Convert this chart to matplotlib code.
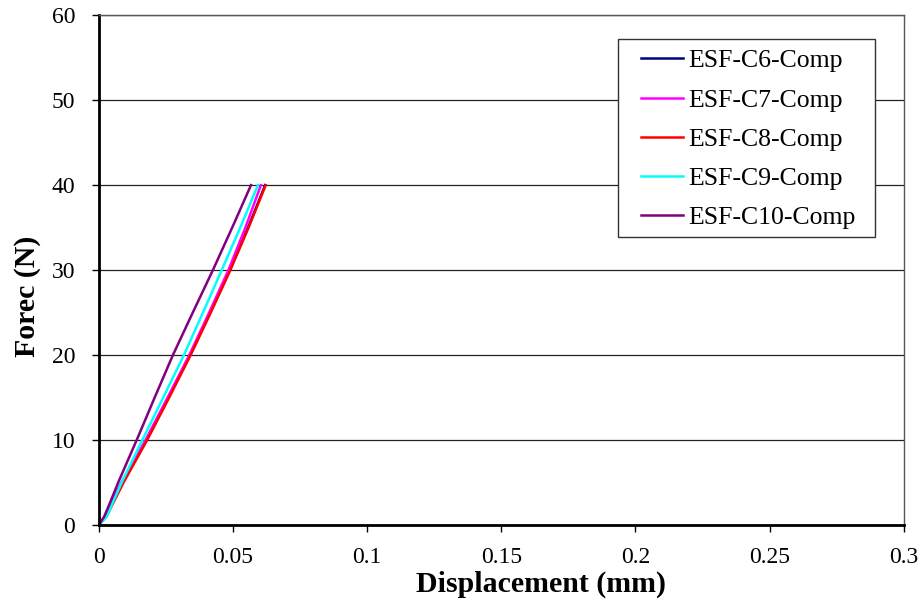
import matplotlib
matplotlib.use("Agg")
import matplotlib.pyplot as plt
from matplotlib.patches import Rectangle

plt.rcParams['font.family'] = ['Liberation Serif', 'DejaVu Serif']

force = [0, 1, 2.5, 5, 10, 15, 20, 25, 30, 35, 40]
disp_c6 = [0, 0.0025, 0.0048, 0.0088, 0.0177, 0.0259, 0.0340, 0.0415, 0.0488, 0.0556, 0.0620]
disp_c7 = [0, 0.0022, 0.0044, 0.0084, 0.0174, 0.0256, 0.0337, 0.0411, 0.0483, 0.0546, 0.0604]
disp_c8 = [0, 0.0028, 0.0052, 0.0092, 0.0180, 0.0262, 0.0342, 0.0417, 0.0490, 0.0558, 0.0622]
disp_c9 = [0, 0.0030, 0.0050, 0.0085, 0.0162, 0.0240, 0.0317, 0.0388, 0.0458, 0.0527, 0.0593]
disp_c10 = [0, 0.0020, 0.0040, 0.0072, 0.0141, 0.0208, 0.0276, 0.0350, 0.0425, 0.0497, 0.0567]

labels = ['ESF-C6-Comp', 'ESF-C7-Comp', 'ESF-C8-Comp', 'ESF-C9-Comp', 'ESF-C10-Comp']
colors = ['#000080', '#FF00FF', '#FF0000', '#00FFFF', '#800080']
series = [disp_c6, disp_c7, disp_c8, disp_c9, disp_c10]

fig = plt.figure(figsize=(9.24, 6.08), dpi=100)
ax = fig.add_axes([0.107, 0.1365, 0.871, 0.8385])

for d, c, l in zip(series, colors, labels):
    ax.plot(d, force, color=c, lw=1.8, label=l)

ax.set_xlim(0, 0.3)
ax.set_ylim(0, 60)
ax.set_xticks([0, 0.05, 0.1, 0.15, 0.2, 0.25, 0.3])
ax.set_xticklabels(['0', '0.05', '0.1', '0.15', '0.2', '0.25', '0.3'])
ax.set_yticks([0, 10, 20, 30, 40, 50, 60])
ax.yaxis.grid(True, color='#222222', lw=0.9)
ax.set_axisbelow(True)
ax.tick_params(axis='both', labelsize=17, direction='out', length=5, width=1)
ax.tick_params(axis='x', pad=11)
ax.tick_params(axis='y', pad=12)
for s in ['left', 'bottom']:
    ax.spines[s].set_linewidth(2)
    ax.spines[s].set_color('black')
for s in ['top', 'right']:
    ax.spines[s].set_linewidth(1)
    ax.spines[s].set_color('#555555')
ax.set_xlabel('Displacement (mm)', fontsize=21.5, fontweight='bold')
ax.xaxis.set_label_coords(0.549, -0.090)
ax.set_ylabel('Forec (N)', fontsize=21.5, fontweight='bold')
ax.yaxis.set_label_coords(-0.072, 0.449)

leg = ax.legend(loc='upper left', bbox_to_anchor=(0.6733, 0.933), fontsize=18.5,
                frameon=False, handlelength=1.65, handletextpad=0.2, borderpad=0,
                labelspacing=0.63, borderaxespad=0)
ax.add_patch(Rectangle((0.6447, 0.5647), 0.964 - 0.6447, 0.953 - 0.5647,
                       transform=ax.transAxes, fill=True, facecolor='white',
                       edgecolor='#333333', lw=1, zorder=4))
leg.set_zorder(5)

fig.savefig('out.png', dpi=100)
